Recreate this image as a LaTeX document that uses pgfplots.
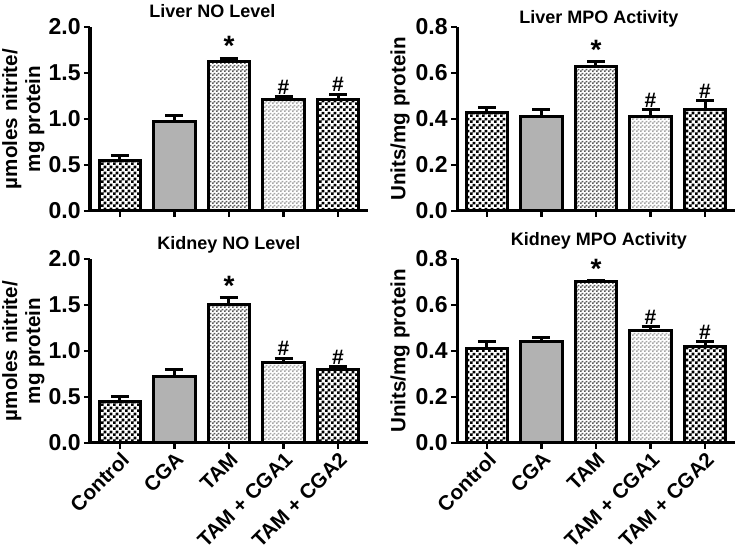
\documentclass[border=0pt]{standalone}
\usepackage{fontspec}
\setmainfont{Liberation Sans}
\usepackage{pgfplots}
\pgfplotsset{compat=1.18}
\usetikzlibrary{patterns}

\pgfdeclarepatternformonly{checkA}{\pgfqpoint{0pt}{0pt}}{\pgfqpoint{2.8pt}{2.8pt}}{\pgfqpoint{2.8pt}{2.8pt}}{%
  \pgfpathrectangle{\pgfqpoint{0pt}{0pt}}{\pgfqpoint{1.4pt}{1.4pt}}%
  \pgfpathrectangle{\pgfqpoint{1.4pt}{1.4pt}}{\pgfqpoint{1.4pt}{1.4pt}}%
  \pgfusepath{fill}}
\pgfdeclarepatternformonly{checkB}{\pgfqpoint{0pt}{0pt}}{\pgfqpoint{2pt}{2pt}}{\pgfqpoint{2pt}{2pt}}{%
  \pgfpathrectangle{\pgfqpoint{0pt}{0pt}}{\pgfqpoint{1pt}{1pt}}%
  \pgfpathrectangle{\pgfqpoint{1pt}{1pt}}{\pgfqpoint{1pt}{1pt}}%
  \pgfusepath{fill}}

\newcommand{\st}{{\fontsize{14}{14}\selectfont\raisebox{-2.5pt}{*}}}

\pgfplotsset{
  panel/.style={
    scale only axis, width=139pt, height=92pt,
    axis x line*=bottom, axis y line*=left,
    axis line style={line width=1.5pt, black},
    xmin=-0.55, xmax=4.55, ymin=0,
    xtick={0,1,2,3,4},
    tick style={line width=1.2pt, black},
    major tick length=3pt,
    tick align=outside,
    every tick label/.append style={font=\fontsize{11.5}{11.5}\selectfont\bfseries},
    yticklabel style={inner sep=1.5pt},
    /pgf/number format/assume math mode=true,
    yticklabel style={/pgf/number format/fixed, /pgf/number format/fixed zerofill, /pgf/number format/precision=1},
    title style={font=\fontsize{9}{10}\selectfont\bfseries, anchor=center},
    ylabel style={font=\fontsize{10.3}{11.5}\selectfont\bfseries, align=center, anchor=center},
    clip=false,
  },
  noaxis/.style={panel, ymax=2.0, ytick={0,0.5,1.0,1.5,2.0},
    ylabel={µmoles nitrite/\\mg protein},
    ylabel style={at={(axis description cs:-0.24,0.5)}}},
  mpoaxis/.style={panel, ymax=0.8, ytick={0,0.2,0.4,0.6,0.8},
    ylabel={Units/mg protein},
    ylabel style={at={(axis description cs:-0.205,0.5)}}},
  toplbl/.style={xticklabels={,,,,}},
  botlbl/.style={xticklabels={Control,CGA,TAM,TAM + CGA1,TAM + CGA2},
    xticklabel style={rotate=45, anchor=north east, inner sep=0.5pt, font=\fontsize{10.3}{11}\selectfont\bfseries}},
  barbase/.style={ybar, bar width=0.76, draw=black, line width=1.5pt,
    error bars/y dir=plus, error bars/y explicit,
    error bars/error bar style={line width=1.5pt, black},
    error bars/error mark options={rotate=90, mark size=4.5pt, line width=1.5pt, black}},
  c0/.style={barbase, pattern=checkA, pattern color=black},
  c1/.style={barbase, fill=gray!60},
  c2/.style={barbase, pattern=checkB, pattern color=black!65},
  c3/.style={barbase, pattern=checkB, pattern color=black!35},
  c4/.style={barbase, pattern=checkA, pattern color=black},
  sig/.style={draw=none, mark=none, nodes near coords, point meta=explicit symbolic,
    nodes near coords style={anchor=south, inner sep=1pt, font=\fontsize{10.5}{10}\selectfont\bfseries}},
}

\begin{document}
\begin{tikzpicture}
\useasboundingbox (0,0) rectangle (375pt,280pt);

% Liver NO Level
\begin{axis}[noaxis, toplbl, at={(45pt,174.5pt)}, anchor=south west,
  title={Liver NO Level}, title style={at={(0.44,1)}, yshift=2pt}]
\addplot[c0] coordinates {(0,0.55) +- (0,0.05)};
\addplot[c1] coordinates {(1,0.97) +- (0,0.07)};
\addplot[c2] coordinates {(2,1.62) +- (0,0.04)};
\addplot[c3] coordinates {(3,1.21) +- (0,0.03)};
\addplot[c4] coordinates {(4,1.21) +- (0,0.06)};
\addplot[sig] coordinates {(2,1.66) [\st] (3,1.24) [\#] (4,1.27) [\#]};
\end{axis}

% Liver MPO Activity
\begin{axis}[mpoaxis, toplbl, at={(228.5pt,174.5pt)}, anchor=south west,
  title={Liver MPO Activity}, title style={at={(0.51,1)}, yshift=-2pt}]
\addplot[c0] coordinates {(0,0.43) +- (0,0.02)};
\addplot[c1] coordinates {(1,0.41) +- (0,0.03)};
\addplot[c2] coordinates {(2,0.63) +- (0,0.02)};
\addplot[c3] coordinates {(3,0.41) +- (0,0.03)};
\addplot[c4] coordinates {(4,0.44) +- (0,0.04)};
\addplot[sig] coordinates {(2,0.65) [\st] (3,0.44) [\#] (4,0.48) [\#]};
\end{axis}

% Kidney NO Level
\begin{axis}[noaxis, botlbl, at={(45pt,58.5pt)}, anchor=south west,
  title={Kidney NO Level}, title style={at={(0.5,1)}, yshift=1pt}]
\addplot[c0] coordinates {(0,0.45) +- (0,0.05)};
\addplot[c1] coordinates {(1,0.72) +- (0,0.08)};
\addplot[c2] coordinates {(2,1.51) +- (0,0.07)};
\addplot[c3] coordinates {(3,0.88) +- (0,0.04)};
\addplot[c4] coordinates {(4,0.80) +- (0,0.03)};
\addplot[sig] coordinates {(2,1.58) [\st] (3,0.92) [\#] (4,0.83) [\#]};
\end{axis}

% Kidney MPO Activity
\begin{axis}[mpoaxis, botlbl, at={(228.5pt,58.5pt)}, anchor=south west,
  title={Kidney MPO Activity}, title style={at={(0.51,1)}, yshift=3pt}]
\addplot[c0] coordinates {(0,0.41) +- (0,0.03)};
\addplot[c1] coordinates {(1,0.44) +- (0,0.02)};
\addplot[c2] coordinates {(2,0.70) +- (0,0.005)};
\addplot[c3] coordinates {(3,0.49) +- (0,0.015)};
\addplot[c4] coordinates {(4,0.42) +- (0,0.02)};
\addplot[sig] coordinates {(2,0.705) [\st] (3,0.505) [\#] (4,0.44) [\#]};
\end{axis}
\end{tikzpicture}
\end{document}
